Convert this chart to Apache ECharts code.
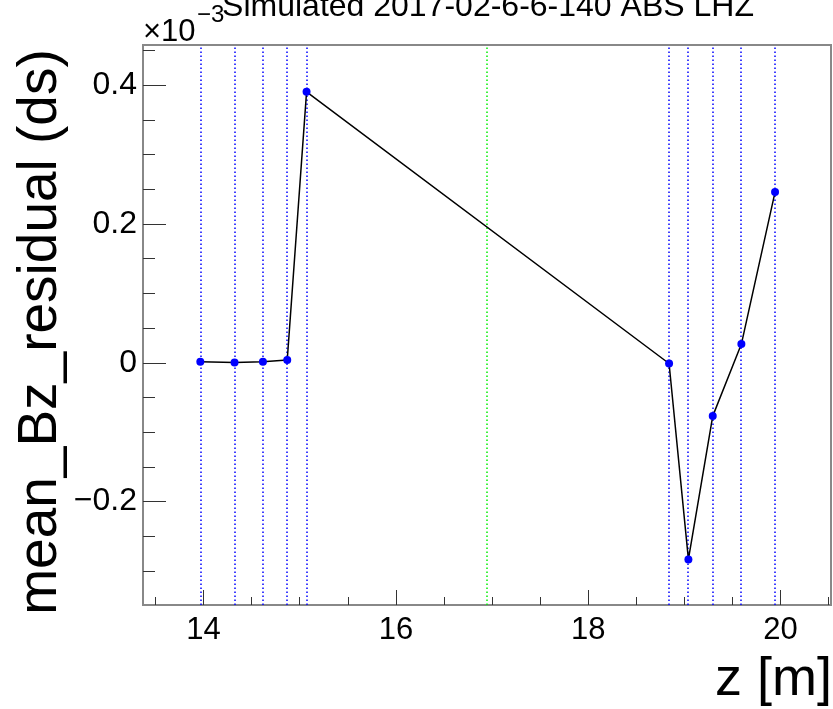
<!DOCTYPE html>
<html>
<head>
<meta charset="utf-8">
<script src="https://cdn.jsdelivr.net/npm/echarts@6/dist/echarts.min.js"></script>
<style>
html,body{margin:0;padding:0;background:#fff;}
#chart{width:833px;height:709px;}
</style>
</head>
<body>
<div id="chart"></div>
<script>
// ---- data (y in units of 1e-3) ----
var zValues = [13.966, 14.322, 14.617, 14.870, 15.071, 18.841, 19.042, 19.295, 19.593, 19.943];
var bzResidual = [0.0014, 0.0005, 0.0014, 0.004, 0.3905, -0.001, -0.2833, -0.0768, 0.027, 0.246];
var greenLineZ = 16.95;
var xMajorTicks = [14, 16, 18, 20];
var xMinorTicks = [13.5, 14.5, 15, 15.5, 16.5, 17, 17.5, 18.5, 19, 19.5, 20.5];
var yMajorTicks = [-0.2, 0, 0.2, 0.4];
var yMinorTicks = [-0.35, -0.3, -0.25, -0.15, -0.1, -0.05, 0.05, 0.1, 0.15, 0.25, 0.3, 0.35, 0.45];
var titleText = 'Simulated 2017-02-6-6-140 ABS LHZ';
var xTitle = 'z [m]';
var yTitle = 'mean_Bz_residual (ds)';

var FONT = '"Liberation Sans", Arial, Helvetica, sans-serif';
var xMin = 13.37, xMax = 20.525, yMin = -0.349, yMax = 0.458;

var chart = echarts.init(document.getElementById('chart'), null, {renderer: 'canvas'});

function fmtY(v) {
  if (Math.abs(v) < 1e-9) return '0';
  var s = Math.abs(v).toFixed(1);
  return (v < 0 ? '\u2212' : '') + s;
}

var markData = zValues.map(function (z) {
  return {xAxis: z, lineStyle: {color: '#0000ff', width: 1.5, type: [1.5, 2.5]}};
});
markData.push({xAxis: greenLineZ, lineStyle: {color: '#00ee00', width: 1.5, type: [1.5, 2.5]}});

var tickColor = '#333';

var option = {
  animation: false,
  backgroundColor: '#ffffff',
  grid: {left: 143, right: 2, top: 45, bottom: 104, show: true, borderColor: '#888', borderWidth: 2, backgroundColor: 'transparent'},
  xAxis: [
    {
      type: 'value', min: xMin, max: xMax, position: 'bottom',
      axisLine: {show: false, onZero: false},
      splitLine: {show: false},
      axisTick: {show: true, inside: true, length: 15, customValues: xMajorTicks, lineStyle: {color: tickColor, width: 1}},
      axisLabel: {show: true, customValues: xMajorTicks, fontSize: 31, fontFamily: FONT, color: '#000', margin: 10,
        formatter: function (v) { return String(Math.round(v)); }}
    },
    {
      type: 'value', min: xMin, max: xMax, position: 'bottom',
      axisLine: {show: false, onZero: false},
      splitLine: {show: false},
      axisTick: {show: true, inside: true, length: 8, customValues: xMinorTicks, lineStyle: {color: tickColor, width: 1}},
      axisLabel: {show: false}
    }
  ],
  yAxis: [
    {
      type: 'value', min: yMin, max: yMax, position: 'left',
      axisLine: {show: false, onZero: false},
      splitLine: {show: false},
      axisTick: {show: true, inside: true, length: 23, customValues: yMajorTicks, lineStyle: {color: tickColor, width: 1}},
      axisLabel: {show: true, customValues: yMajorTicks, fontSize: 32, fontFamily: FONT, color: '#000', margin: 6,
        formatter: fmtY}
    },
    {
      type: 'value', min: yMin, max: yMax, position: 'left', offset: 0,
      axisLine: {show: false, onZero: false},
      splitLine: {show: false},
      axisTick: {show: true, inside: true, length: 12, customValues: yMinorTicks, lineStyle: {color: tickColor, width: 1}},
      axisLabel: {show: false}
    }
  ],
  series: [
    {
      type: 'line',
      xAxisIndex: 0, yAxisIndex: 0,
      data: zValues.map(function (z, i) { return [z, bzResidual[i]]; }),
      symbol: 'circle', symbolSize: 8,
      showSymbol: true,
      lineStyle: {color: '#000', width: 1.5},
      itemStyle: {color: '#0000ff'},
      z: 5,
      markLine: {
        silent: true, symbol: ['none', 'none'], label: {show: false},
        animation: false,
        data: markData,
        z: 2
      }
    }
  ],
  graphic: [
    {type: 'text', x: 488, y: 7, z: 10,
      style: {text: titleText, fontSize: 32, fontFamily: FONT, fill: '#000', textAlign: 'center', textVerticalAlign: 'middle'}},
    {type: 'text', x: 143, y: 32, z: 10,
      style: {text: '\u00d710', fontSize: 31, fontFamily: FONT, fill: '#000', textAlign: 'left', textVerticalAlign: 'middle'}},
    {type: 'text', x: 197, y: 15, z: 10,
      style: {text: '\u22123', fontSize: 24, fontFamily: FONT, fill: '#000', textAlign: 'left', textVerticalAlign: 'middle'}},
    {type: 'text', x: 41, y: 332, rotation: Math.PI / 2, z: 10,
      style: {text: yTitle, fontSize: 55, fontFamily: FONT, fill: '#000', textAlign: 'center', textVerticalAlign: 'middle'}},
    {type: 'text', x: 832, y: 680, z: 10,
      style: {text: xTitle, fontSize: 54, fontFamily: FONT, fill: '#000', textAlign: 'right', textVerticalAlign: 'middle'}}
  ]
};
chart.setOption(option);
</script>
</body>
</html>
